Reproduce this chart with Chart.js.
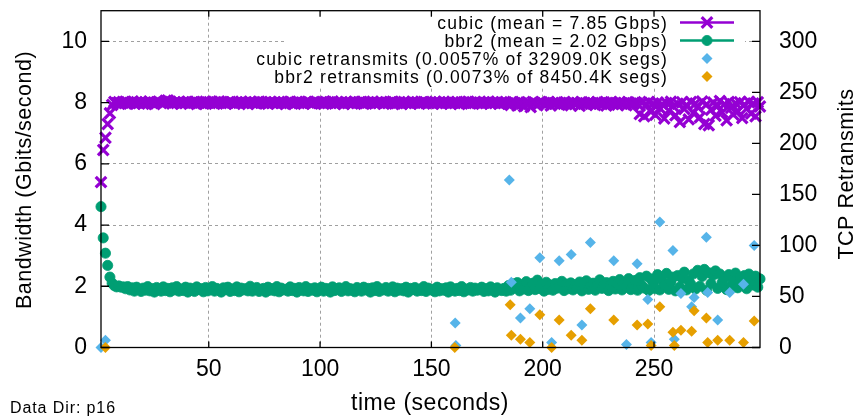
<!DOCTYPE html>
<html>
<head>
<meta charset="utf-8">
<title>cubic vs bbr2 throughput</title>
<script src="https://cdn.jsdelivr.net/npm/chart.js@4/dist/chart.umd.min.js"></script>
<style>
  html, body { margin: 0; padding: 0; background: #fff; }
  #wrap { width: 859px; height: 416px; }
</style>
</head>
<body>
<div id="wrap"><canvas id="tputChart" width="859" height="416"></canvas></div>
<script>
// per-second throughput samples (Gbps), first sample at startTime
const startTime = 1.6;

const cubicGbps = [
    5.40, 6.45, 6.85, 7.30, 7.65, 7.92, 8.02, 7.98, 8.01, 7.97,
    8.00, 8.03, 7.96, 7.99, 8.02, 7.97, 8.01, 7.98, 8.04, 7.96,
    8.00, 7.97, 8.02, 7.99, 7.95, 8.01, 8.03, 7.98, 8.00, 8.06,
    8.07, 8.03, 7.97, 8.00, 7.98, 8.02, 7.96, 8.01, 7.99, 8.03,
    7.98, 8.00, 8.02, 7.95, 7.99, 8.01, 7.97, 8.03, 8.00, 7.98,
    8.02, 7.96, 8.00, 8.04, 7.98, 8.01, 7.97, 7.99, 8.02, 8.00,
    7.96, 8.01, 7.99, 8.03, 7.98, 8.00, 7.95, 8.02, 7.99, 8.01,
    7.97, 8.03, 8.00, 7.98, 8.01, 7.96, 8.02, 7.99, 8.00, 7.97,
    8.02, 7.98, 8.01, 7.95, 8.00, 8.03, 7.97, 7.99, 8.02, 7.98,
    8.00, 7.96, 8.01, 8.03, 7.99, 7.97, 8.02, 8.00, 7.98, 8.01,
    7.96, 8.02, 7.99, 8.00, 8.04, 7.97, 8.01, 7.98, 8.00, 7.95,
    8.02, 7.99, 8.01, 7.97, 8.03, 7.98, 8.00, 8.02, 7.96, 7.99,
    8.01, 7.98, 8.03, 7.97, 8.00, 7.99, 8.02, 7.96, 8.01, 7.98,
    8.00, 8.03, 7.97, 7.99, 8.01, 7.95, 8.02, 7.98, 8.00, 7.97,
    8.03, 7.99, 8.01, 7.96, 8.00, 8.02, 7.98, 7.99, 8.01, 7.97,
    8.02, 7.98, 8.00, 7.96, 8.03, 7.99, 8.01, 7.97, 8.00, 7.98,
    8.02, 7.95, 8.00, 8.01, 7.98, 8.03, 7.97, 7.99, 8.02, 7.98,
    8.00, 7.96, 8.01, 7.99, 8.03, 7.97, 8.00, 7.98, 8.02, 7.96,
    8.01, 7.99, 8.00, 7.97, 7.92, 8.02, 7.98, 7.90, 8.01, 7.97,
    7.88, 8.00, 7.96, 7.85, 8.02, 7.98, 7.91, 7.99, 8.01, 7.94,
    7.97, 8.02, 7.90, 7.99, 7.96, 8.01, 7.93, 7.98, 8.00, 7.95,
    7.99, 7.91, 8.02, 7.96, 7.98, 7.89, 8.01, 7.97, 7.94, 8.00,
    7.96, 7.99, 7.92, 8.02, 7.97, 7.95, 8.00, 7.90, 7.98, 8.01,
    7.95, 7.99, 7.93, 8.02, 7.96, 7.98, 7.91, 8.00, 7.97, 7.94,
    8.01, 7.96, 7.62, 7.99, 7.55, 7.93, 8.02, 7.70, 7.97, 7.60,
    8.00, 7.82, 7.95, 7.48, 7.99, 7.74, 8.03, 7.88, 7.58, 7.96,
    7.36, 8.01, 7.79, 7.92, 7.45, 8.02, 7.66, 7.97, 7.85, 7.52,
    8.04, 7.30, 7.94, 7.26, 7.76, 8.00, 7.57, 7.90, 8.05, 7.68,
    7.95, 7.42, 8.02, 7.83, 7.61, 7.98, 7.72, 8.01, 7.49, 7.93,
    7.80, 8.03, 7.64, 7.97, 7.55, 8.01, 7.87
];

const bbr2Gbps = [
    4.60, 3.58, 3.08, 2.68, 2.30, 2.10, 2.02, 1.98, 2.01, 1.97,
    1.98, 1.92, 1.99, 1.88, 1.95, 1.84, 1.97, 1.90, 1.83, 1.94,
    1.87, 1.99, 1.85, 1.92, 1.81, 1.96, 1.89, 1.84, 1.98, 1.86,
    1.93, 1.82, 1.95, 1.88, 1.99, 1.84, 1.91, 1.86, 1.97, 1.81,
    1.94, 1.87, 1.83, 1.98, 1.89, 1.92, 1.82, 1.96, 1.85, 1.90,
    1.99, 1.84, 1.93, 1.87, 1.81, 1.95, 1.89, 1.97, 1.83, 1.91,
    1.86, 1.98, 1.82, 1.94, 1.88, 1.92, 1.85, 2.00, 1.84, 1.90,
    1.96, 1.83, 1.89, 1.93, 1.81, 1.97, 1.87, 1.92, 1.85, 1.99,
    1.82, 1.94, 1.88, 1.90, 1.84, 1.98, 1.86, 1.93, 1.81, 1.96,
    1.89, 1.85, 1.99, 1.83, 1.92, 1.87, 1.95, 1.82, 1.90, 1.97,
    1.84, 1.93, 1.88, 1.81, 1.98, 1.86, 1.91, 1.95, 1.83, 1.89,
    1.99, 1.85, 1.92, 1.87, 1.82, 1.96, 1.90, 1.84, 1.97, 1.88,
    1.93, 1.81, 1.95, 1.86, 1.99, 1.83, 1.91, 1.88, 1.96, 1.84,
    1.90, 1.98, 1.82, 1.94, 1.87, 1.92, 1.85, 1.97, 1.81, 1.93,
    1.89, 1.96, 1.84, 1.91, 1.86, 1.99, 1.83, 1.94, 1.88, 1.90,
    1.82, 1.97, 1.85, 1.92, 1.87, 1.95, 1.81, 1.98, 1.89, 1.84,
    1.93, 1.86, 1.99, 1.82, 1.91, 1.88, 1.96, 1.84, 1.94, 1.87,
    1.90, 1.97, 1.83, 1.92, 1.85, 1.98, 1.88, 1.81, 1.95, 1.89,
    1.86, 1.93, 1.84, 2.02, 1.87, 2.08, 1.95, 2.12, 1.85, 2.05,
    1.91, 2.15, 1.86, 1.98, 2.10, 1.89, 2.20, 1.93, 2.06, 1.84,
    2.13, 1.90, 2.04, 1.87, 2.09, 1.94, 2.02, 2.16, 1.86, 2.07,
    1.92, 2.11, 1.88, 2.05, 1.95, 2.14, 1.85, 1.99, 2.18, 1.90,
    2.03, 2.10, 1.87, 2.06, 2.21, 1.93, 2.01, 2.12, 1.86, 2.04,
    2.16, 1.91, 2.07, 2.22, 1.88, 2.10, 1.97, 2.25, 1.89, 2.05,
    2.19, 1.87, 2.28, 2.02, 1.94, 2.33, 1.86, 2.24, 2.10, 1.92,
    2.38, 1.88, 2.20, 2.04, 2.42, 1.90, 2.14, 2.30, 1.85, 2.35,
    1.97, 2.26, 2.46, 1.88, 2.18, 2.06, 2.40, 1.91, 2.52, 2.00,
    2.32, 2.55, 1.87, 2.44, 2.09, 2.36, 2.50, 1.93, 2.40, 2.13,
    2.28, 1.89, 2.38, 2.02, 2.22, 2.43, 1.95, 2.30, 2.10, 2.35,
    1.92, 2.40, 2.18, 2.04, 2.33, 1.97, 2.24
];

// TCP retransmits (segments) at the seconds where any happened
const cubicRetxTimes = [1.6, 3.6, 160.7, 161.0, 185.0, 185.9, 190.0, 194.2, 198.7, 204.0,
    207.4, 212.8, 217.6, 221.4, 231.9, 237.6, 242.4, 247.2, 248.7, 252.6,
    258.5, 259.1, 262.1, 266.9, 268.0, 273.5, 274.1, 278.6, 284.0, 290.2, 295.0];
const cubicRetx = [0, 7, 24, 2, 164, 64, 29, 38, 88, 5,
    85, 91, 22, 103, 85, 3, 82, 47, 5, 123,
    95, 8, 53, 40, 49, 108, 54, 27, 54, 62, 100];

const bbr2RetxTimes = [3.6, 160.5, 185.4, 185.9, 190.0, 194.2, 198.7, 204.0, 207.4, 212.8,
    217.6, 221.4, 231.9, 242.4, 247.2, 248.7, 252.6, 258.5, 259.1, 262.1,
    266.9, 268.0, 273.5, 274.1, 278.6, 284.0, 290.2, 295.0];
const bbr2Retx = [0, 0, 42, 12, 8, 5, 32, 0, 27, 12,
    7, 38, 27, 22, 23, 2, 40, 15, 2, 17,
    16, 36, 29, 5, 7, 7, 5, 26];

const timeTicks = [50, 100, 150, 200, 250];
const bwTicks = [0, 2, 4, 6, 8, 10];
const retxTicks = [0, 50, 100, 150, 200, 250, 300];

const seriesLabels = [
    'cubic (mean = 7.85 Gbps)',
    'bbr2 (mean = 2.02 Gbps)',
    'cubic retransmits (0.0057% of 32909.0K segs)',
    'bbr2 retransmits (0.0073% of 8450.4K segs)'
];
const seriesColors = ['#9400d3', '#009e73', '#56b4e9', '#e69f00'];

const sampleTimes = cubicGbps.map((_, i) => startTime + i);
const toPoints = (xs, ys) => ys.map((y, i) => ({ x: xs[i], y: y }));

const FONT = "'Liberation Sans', Arial, sans-serif";

const markerStyles = [
    { pointStyle: 'crossRot', radius: 7.5, borderWidth: 3.2, rotation: 0 },
    { pointStyle: 'circle', radius: 5.1, borderWidth: 0.8, rotation: 0 },
    { pointStyle: 'rectRot', radius: 5.5, borderWidth: 0, rotation: 0 },
    { pointStyle: 'rectRot', radius: 5.5, borderWidth: 0, rotation: 0 }
];

function scatterSet(idx, points, axis) {
    const m = markerStyles[idx];
    return {
        label: seriesLabels[idx],
        data: points,
        yAxisID: axis,
        showLine: false,
        clip: false,
        order: 4 - idx,
        pointStyle: m.pointStyle,
        pointRadius: m.radius,
        pointBorderWidth: m.borderWidth,
        pointBackgroundColor: seriesColors[idx],
        pointBorderColor: seriesColors[idx]
    };
}

// box, inward tics, key and axis titles in the gnuplot look
const gnuplotFrame = {
    id: 'gnuplotFrame',
    afterDraw(chart) {
        const ctx = chart.ctx;
        const a = chart.chartArea;
        const sx = chart.scales.x, sy = chart.scales.y, sy2 = chart.scales.y2;

        // opaque key background
        ctx.save();
        ctx.fillStyle = '#fff';
        ctx.fillRect(285, a.top + 1, 460, 76);

        // key entries
        ctx.font = '17.5px ' + FONT;
        ctx.letterSpacing = '1.2px';
        ctx.fillStyle = '#000';
        ctx.textAlign = 'right';
        ctx.textBaseline = 'alphabetic';
        const rowY = [22.5, 40.5, 58.5, 76.5];
        seriesLabels.forEach((txt, i) => {
            const y = rowY[i];
            ctx.fillText(txt, 668, y + 6.3);
            if (i < 2) {
                ctx.strokeStyle = seriesColors[i];
                ctx.lineWidth = 2.5;
                ctx.beginPath();
                ctx.moveTo(680, y);
                ctx.lineTo(734, y);
                ctx.stroke();
            }
            const m = markerStyles[i];
            ctx.fillStyle = seriesColors[i];
            ctx.strokeStyle = seriesColors[i];
            ctx.lineWidth = m.borderWidth;
            Chart.helpers.drawPoint(ctx, m, 707, y);
            ctx.fillStyle = '#000';
        });
        ctx.restore();

        // border and inward tics
        ctx.save();
        ctx.strokeStyle = '#000';
        ctx.lineWidth = 1.3;
        ctx.beginPath();
        timeTicks.forEach(v => {
            const x = sx.getPixelForValue(v);
            ctx.moveTo(x, a.bottom); ctx.lineTo(x, a.bottom - 6);
            ctx.moveTo(x, a.top); ctx.lineTo(x, a.top + 6);
        });
        bwTicks.forEach(v => {
            const y = sy.getPixelForValue(v);
            ctx.moveTo(a.left, y); ctx.lineTo(a.left + 8, y);
        });
        retxTicks.forEach(v => {
            const y = sy2.getPixelForValue(v);
            ctx.moveTo(a.right, y); ctx.lineTo(a.right - 8, y);
        });
        ctx.stroke();
        ctx.strokeRect(a.left, a.top, a.right - a.left, a.bottom - a.top);
        ctx.restore();

        // axis titles
        ctx.save();
        ctx.fillStyle = '#000';
        ctx.font = '23px ' + FONT;
        ctx.textAlign = 'center';
        ctx.textBaseline = 'alphabetic';
        ctx.letterSpacing = '0.5px';
        ctx.fillText('time (seconds)', 430, 410);

        ctx.font = '21.5px ' + FONT;
        ctx.textBaseline = 'middle';
        ctx.save();
        ctx.translate(25, 180);
        ctx.rotate(-Math.PI / 2);
        ctx.fillText('Bandwidth (Gbits/second)', 0, 0);
        ctx.restore();

        ctx.save();
        ctx.translate(847, 174);
        ctx.rotate(-Math.PI / 2);
        ctx.fillText('TCP Retransmits', 0, 0);
        ctx.restore();

        ctx.font = '16px ' + FONT;
        ctx.textAlign = 'left';
        ctx.textBaseline = 'alphabetic';
        ctx.letterSpacing = '0.9px';
        ctx.fillText('Data Dir: p16', 10, 413);
        ctx.restore();
    }
};

function fixedTicks(values) {
    return scale => { scale.ticks = values.map(v => ({ value: v })); };
}

// pin the plot box: no extra room for overhanging tick labels
function fitTo(size) {
    return s => {
        if (s.isHorizontal()) s.height = size; else s.width = size;
        s.paddingTop = 0; s.paddingBottom = 0;
        s.paddingLeft = 0; s.paddingRight = 0;
    };
}

const tickFont = { family: FONT, size: 23 };

new Chart(document.getElementById('tputChart').getContext('2d'), {
    type: 'scatter',
    data: {
        datasets: [
            scatterSet(0, toPoints(sampleTimes, cubicGbps), 'y'),
            scatterSet(1, toPoints(sampleTimes, bbr2Gbps), 'y'),
            scatterSet(2, toPoints(cubicRetxTimes, cubicRetx), 'y2'),
            scatterSet(3, toPoints(bbr2RetxTimes, bbr2Retx), 'y2')
        ]
    },
    options: {
        responsive: false,
        animation: false,
        layout: { padding: { top: 10, left: 0, right: 0, bottom: 0 } },
        plugins: {
            legend: { display: false },
            tooltip: { enabled: false }
        },
        scales: {
            x: {
                type: 'linear',
                position: 'bottom',
                min: startTime,
                max: sampleTimes[sampleTimes.length - 1],
                afterBuildTicks: fixedTicks(timeTicks),
                afterFit: fitTo(68.5),
                grid: { color: '#a0a0a0', lineWidth: 1, drawTicks: false },
                border: { display: false, dash: [3, 3] },
                ticks: { font: tickFont, color: '#000', padding: 8, maxRotation: 0 }
            },
            y: {
                type: 'linear',
                position: 'left',
                min: 0,
                max: 11,
                afterBuildTicks: fixedTicks(bwTicks),
                afterFit: fitTo(101),
                grid: { color: '#a0a0a0', lineWidth: 1, drawTicks: false },
                border: { display: false, dash: [3, 3] },
                ticks: { font: tickFont, color: '#000', padding: 14 }
            },
            y2: {
                type: 'linear',
                position: 'right',
                min: 0,
                max: 330,
                afterBuildTicks: fixedTicks(retxTicks),
                afterFit: fitTo(99),
                grid: { display: false, drawTicks: false },
                border: { display: false },
                ticks: { font: tickFont, color: '#000', padding: 19 }
            }
        }
    },
    plugins: [gnuplotFrame]
});
</script>
</body>
</html>
